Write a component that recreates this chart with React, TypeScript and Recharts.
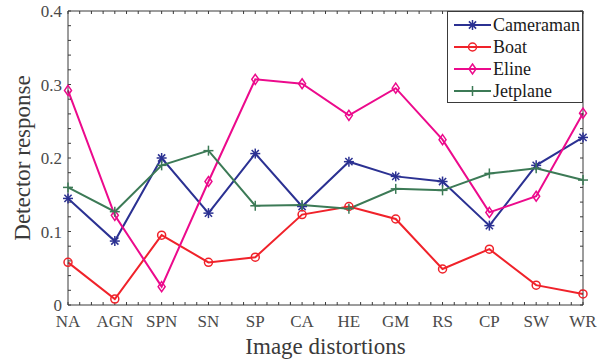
import React from "react";
import { LineChart, Line, XAxis, YAxis, Legend } from "recharts";

const categories = ["NA", "AGN", "SPN", "SN", "SP", "CA", "HE", "GM", "RS", "CP", "SW", "WR"];
const cameraman = [0.145, 0.087, 0.2, 0.125, 0.206, 0.134, 0.195, 0.175, 0.168, 0.108, 0.19, 0.228];
const boat = [0.058, 0.008, 0.095, 0.058, 0.065, 0.123, 0.134, 0.117, 0.049, 0.076, 0.027, 0.015];
const eline = [0.292, 0.122, 0.025, 0.168, 0.307, 0.301, 0.258, 0.295, 0.225, 0.126, 0.148, 0.261];
const jetplane = [0.16, 0.127, 0.19, 0.21, 0.135, 0.136, 0.131, 0.158, 0.156, 0.179, 0.186, 0.17];
const yTicks = [0, 0.1, 0.2, 0.3, 0.4];

const series = [
  { key: "cameraman", name: "Cameraman", color: "#2b3192", marker: "star" },
  { key: "boat", name: "Boat", color: "#f0222a", marker: "circle" },
  { key: "eline", name: "Eline", color: "#ec0a8c", marker: "diamond" },
  { key: "jetplane", name: "Jetplane", color: "#3c7a56", marker: "plus" },
];

const data = categories.map((c, i) => ({
  idx: i,
  name: c,
  cameraman: cameraman[i],
  boat: boat[i],
  eline: eline[i],
  jetplane: jetplane[i],
}));

const xMajor = categories.map((_, i) => i);
// major + minor ticks (4 steps per category)
const xAllTicks = categories.slice(0, -1).flatMap((_, i) => [i, i + 0.25, i + 0.5, i + 0.75]).concat([categories.length - 1]);
const yAllTicks = [0, 0.02, 0.04, 0.06, 0.08, 0.1, 0.12, 0.14, 0.16, 0.18, 0.2, 0.22, 0.24, 0.26, 0.28, 0.3, 0.32, 0.34, 0.36, 0.38, 0.4];

const font = "'Liberation Serif', 'Times New Roman', serif";
const axisColor = "#3a3a3a";
const noLabel = () => "";

function Marker({ kind, cx, cy, color }: { kind: string; cx: number; cy: number; color: string }) {
  if (cx == null || cy == null) return null;
  const sw = 1.5;
  if (kind === "star") {
    const r = 5, d = 3.6;
    return (
      <g stroke={color} strokeWidth={sw}>
        <line x1={cx - r} y1={cy} x2={cx + r} y2={cy} />
        <line x1={cx} y1={cy - r} x2={cx} y2={cy + r} />
        <line x1={cx - d} y1={cy - d} x2={cx + d} y2={cy + d} />
        <line x1={cx - d} y1={cy + d} x2={cx + d} y2={cy - d} />
      </g>
    );
  }
  if (kind === "circle") {
    return <circle cx={cx} cy={cy} r={4} fill="none" stroke={color} strokeWidth={sw} />;
  }
  if (kind === "diamond") {
    return (
      <polygon
        points={`${cx},${cy - 5} ${cx + 3.5},${cy} ${cx},${cy + 5} ${cx - 3.5},${cy}`}
        fill="none"
        stroke={color}
        strokeWidth={sw}
      />
    );
  }
  return (
    <g stroke={color} strokeWidth={sw}>
      <line x1={cx - 5} y1={cy} x2={cx + 5} y2={cy} />
      <line x1={cx} y1={cy - 5} x2={cx} y2={cy + 5} />
    </g>
  );
}

function LegendBox() {
  return (
    <div
      style={{
        width: 136,
        height: 92,
        boxSizing: "border-box",
        border: `1px solid ${axisColor}`,
        background: "#fff",
        paddingTop: 2,
        fontFamily: font,
        fontSize: 18,
        color: "#1a1a1a",
      }}
    >
      {series.map((s) => (
        <div key={s.key} style={{ display: "flex", alignItems: "center", height: 22 }}>
          <svg width={45} height={22} style={{ flex: "none" }}>
            <line x1={6} y1={11} x2={43} y2={11} stroke={s.color} strokeWidth={2} />
            <Marker kind={s.marker} cx={24.5} cy={11} color={s.color} />
          </svg>
          <span style={{ lineHeight: "22px" }}>{s.name}</span>
        </div>
      ))}
    </div>
  );
}

// tick-only axes (inward ticks, MATLAB box style)
function tickAxisProps(ticks: number[]) {
  return {
    type: "number" as const,
    ticks,
    interval: 0 as const,
    allowDataOverflow: true,
    mirror: true,
    tick: { fontSize: 0 },
    tickFormatter: noLabel,
    tickSize: 3,
    tickLine: { stroke: axisColor },
  };
}

export default function App() {
  const xDomain: [number, number] = [0, categories.length - 1];
  return (
    <div style={{ position: "absolute", left: 0, top: 0, width: 600, height: 362, background: "#fff" }}>
      <LineChart width={600} height={362} data={data} margin={{ top: 11, right: 17, left: 0, bottom: 0 }}>
        <XAxis
          xAxisId="x"
          dataKey="idx"
          type="number"
          domain={xDomain}
          ticks={xMajor}
          tickFormatter={(v: number) => categories[v] ?? ""}
          tickLine={false}
          tickSize={0}
          axisLine={{ stroke: axisColor }}
          tick={{ fill: "#4a4a4a", fontSize: 17, fontFamily: font }}
          tickMargin={10}
          height={57}
          interval={0}
          label={{ value: "Image distortions", position: "insideBottom", offset: 8, fill: "#3a3a3a", fontSize: 23, fontFamily: font }}
        />
        <XAxis xAxisId="xb" domain={xDomain} {...tickAxisProps(xAllTicks)} axisLine={false} />
        <XAxis xAxisId="xt" orientation="top" domain={xDomain} {...tickAxisProps(xAllTicks)} axisLine={{ stroke: axisColor }} />
        <YAxis
          yAxisId="y"
          type="number"
          domain={[0, 0.4]}
          ticks={yTicks}
          interval={0}
          tickFormatter={(v: number) => (v === 0 ? "0" : v.toFixed(1))}
          tickLine={false}
          tickSize={0}
          axisLine={{ stroke: axisColor }}
          tick={{ fill: "#4a4a4a", fontSize: 17, fontFamily: font }}
          tickMargin={6}
          width={68}
          label={{ value: "Detector response", angle: -90, position: "insideLeft", offset: 22, fill: "#3a3a3a", fontSize: 23, fontFamily: font, style: { textAnchor: "middle" } }}
        />
        <YAxis yAxisId="yl" domain={[0, 0.4]} {...tickAxisProps(yAllTicks)} axisLine={false} />
        <YAxis yAxisId="yr" orientation="right" domain={[0, 0.4]} {...tickAxisProps(yAllTicks)} axisLine={{ stroke: axisColor }} />
        <Legend
          layout="horizontal"
          verticalAlign="middle"
          align="center"
          wrapperStyle={{ top: 11, left: 447, width: 136 }}
          content={() => <LegendBox />}
        />
        {series.map((s) => (
          <Line
            key={s.key}
            xAxisId="x"
            yAxisId="y"
            dataKey={s.key}
            name={s.name}
            stroke={s.color}
            strokeWidth={2}
            isAnimationActive={false}
            dot={(p: any) => <Marker key={`${s.key}-${p.index}`} kind={s.marker} cx={p.cx} cy={p.cy} color={s.color} />}
            activeDot={false}
          />
        ))}
      </LineChart>
    </div>
  );
}
